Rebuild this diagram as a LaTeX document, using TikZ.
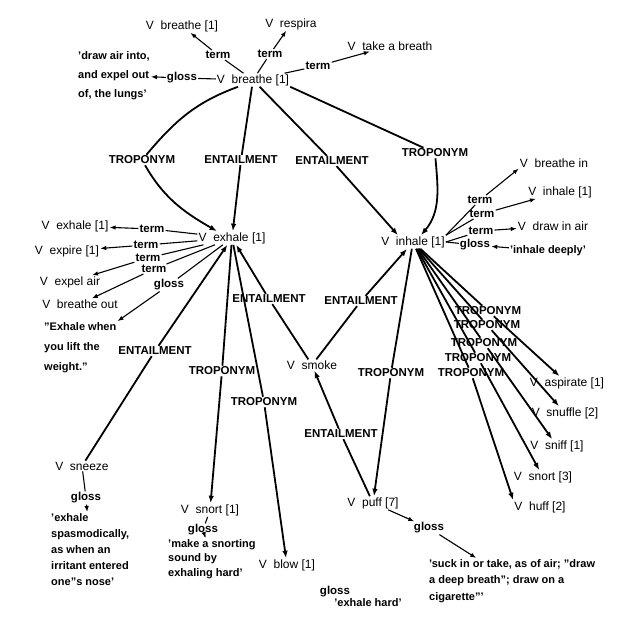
\documentclass[tikz,border=0pt]{standalone}
\usepackage{fontspec}
\setmainfont{Liberation Sans}
\usetikzlibrary{arrows.meta}
\begin{document}
\begin{tikzpicture}[x=1pt,y=-1pt,>={Latex[length=7.5pt,width=5.5pt]},
    syn/.style={inner sep=1pt,font=\fontsize{12}{14}\selectfont},
    rel/.style={inner sep=1pt,font=\bfseries\fontsize{11.5}{13}\selectfont},
    gtext/.style={inner sep=1pt,anchor=north west,align=left,font=\bfseries\fontsize{11}{16}\selectfont},
    relline/.style={line width=1.8pt},
    termline/.style={line width=1.1pt,>={Latex[length=6pt,width=4.5pt]}}]
  \useasboundingbox (0,0) rectangle (637,635);
  % V breathe [1] and its terms
  \draw
    (182,26) node[syn] (brTop){V~ breathe [1]}
    (291,24) node[syn] (respira){V~ respira}
    (390,46) node[syn] (take){V~ take a breath}
    (218,55) node[rel] (tmA){term}
    (270,54) node[rel] (tmB){term}
    (318,66) node[rel] (tmC){term}
    (182,78) node[rel] (glBr){gloss}
    (77,50) node[gtext,font=\bfseries\fontsize{11}{19}\selectfont] (brGl){'draw air into,\\and expel out\\of, the lungs'}
    (253,80) node[syn] (br){V~ breathe [1]}
    (142,160) node[rel] (tropL){TROPONYM}
    (241,160) node[rel] (entL){ENTAILMENT}
    (332,161) node[rel] (entR){ENTAILMENT}
    (435,153) node[rel] (tropR){TROPONYM}
    (232,238) node[syn] (ex){V~ exhale [1]}
    (413,242) node[syn] (inh){V~ inhale [1]};
  % exhale side
  \draw
    (75,226) node[syn] (exSyn){V~ exhale [1]}
    (67,251) node[syn] (expire){V~ expire [1]}
    (70,282) node[syn] (expel){V~ expel air}
    (80,304) node[syn] (brOut){V~ breathe out}
    (152,229) node[rel] (tmE1){term}
    (146,245) node[rel] (tmE2){term}
    (148,258) node[rel] (tmE3){term}
    (154,269) node[rel] (tmE4){term}
    (169,285) node[rel] (glEx){gloss}
    (43,321) node[gtext,font=\bfseries\fontsize{11}{20}\selectfont] (exGl){"Exhale when\\you lift the\\weight."};
  % inhale side
  \draw
    (554,163) node[syn] (brIn){V~ breathe in}
    (560,192) node[syn] (inhSyn){V~ inhale [1]}
    (553,226) node[syn] (drawIn){V~ draw in air}
    (548,251) node[gtext,anchor=center] (inhGl){'inhale deeply'}
    (480,200) node[rel] (tmI1){term}
    (482,214) node[rel] (tmI2){term}
    (481,231) node[rel] (tmI3){term}
    (475,245) node[rel] (glIn){gloss}
    (488,311) node[rel] (tr1){TROPONYM}
    (487,325) node[rel] (tr2){TROPONYM}
    (484,343) node[rel] (tr3){TROPONYM}
    (478,358) node[rel] (tr4){TROPONYM}
    (471,373) node[rel] (tr5){TROPONYM}
    (567,383) node[syn] (aspirate){V~ aspirate [1]}
    (565,413) node[syn] (snuffle){V~ snuffle [2]}
    (557,446) node[syn] (sniff){V~ sniff [1]}
    (543,477) node[syn] (snortC){V~ snort [3]}
    (540,507) node[syn] (huff){V~ huff [2]};
  % lower part
  \draw
    (155,351) node[rel] (entS){ENTAILMENT}
    (82,466) node[syn] (sneeze){V~ sneeze}
    (86,498) node[rel] (glSn){gloss}
    (50,512) node[gtext] (snGl){'exhale\\spasmodically,\\as when an\\irritant entered\\one''s nose'}
    (222,371) node[rel] (tropS){TROPONYM}
    (210,510) node[syn] (snortA){V~ snort [1]}
    (203,530) node[rel] (glSo){gloss}
    (167,538) node[gtext,font=\bfseries\fontsize{11}{14.5}\selectfont] (soGl){'make a snorting\\sound by\\exhaling hard'}
    (264,402) node[rel] (tropB){TROPONYM}
    (287,565) node[syn] (blow){V~ blow [1]}
    (335,592) node[rel] (glBl){gloss}
    (368,603) node[gtext,anchor=center] (blGl){'exhale hard'}
    (269,299) node[rel] (entSE){ENTAILMENT}
    (361,301) node[rel] (entSI){ENTAILMENT}
    (312,365) node[syn] (smoke){V~ smoke}
    (391,373) node[rel] (tropP){TROPONYM}
    (341,434) node[rel] (entP){ENTAILMENT}
    (373,503) node[syn] (puff){V~ puff [7]}
    (429,528) node[rel] (glPf){gloss}
    (428,558) node[gtext,font=\bfseries\fontsize{11}{16.5}\selectfont] (pfGl){'suck in or take, as of air; "draw\\a deep breath"; draw on a\\cigarette"'};
  \begin{scope}[termline]
    \draw (br) to (tmA);  \draw[->] (tmA) to (brTop);
    \draw (br) to (tmB);  \draw[->] (tmB) to (respira);
    \draw (br) to (tmC);  \draw[->] (tmC) to (take);
    \draw (br) to (glBr); \draw[->] (glBr) to (brGl);
    \draw (ex) to (tmE1); \draw[->] (tmE1) to (exSyn);
    \draw (ex) to (tmE2); \draw[->] (tmE2) to (expire);
    \draw (ex) to (tmE3); \draw[->] (tmE3) to (expel);
    \draw (ex) to (tmE4); \draw[->] (tmE4) to (brOut);
    \draw (ex) to (glEx); \draw[->] (glEx) to (exGl);
    \draw (inh.north east) to (tmI1); \draw[->] (tmI1) to (brIn.south west);
    \draw (inh.north east) to (tmI2); \draw[->] (tmI2) to (inhSyn);
    \draw (inh.east) to (tmI3); \draw[->] (tmI3) to (drawIn);
    \draw (inh.east) to (glIn); \draw[<-] (glIn) to (inhGl);
    \draw (sneeze) to (glSn); \draw[->] (glSn) to (snGl);
    \draw (snortA) to (glSo); \draw[->] (glSo) to (soGl);
    \draw[->] (puff) to (glPf); \draw[->] (glPf) to (pfGl);
  \end{scope}
  \begin{scope}[relline]
    \draw ([xshift=-15pt]br.south) to[out=200,in=50] (tropL);
    \draw[->] (tropL) to[out=-60,in=150] ([xshift=-15pt]ex.north);
    \draw (br) to (entL);  \draw[->] (entL) to (ex);
    \draw (br) to (entR);  \draw[->] (entR) to ([xshift=-15pt]inh.north);
    \draw (br.south east) to (tropR);
    \draw[->] (tropR) to[out=-85,in=50] ([xshift=8pt]inh.north);
    \draw (sneeze) to (entS); \draw[->] (entS) to (ex);
    \draw (ex) to (tropS);    \draw[->] (tropS) to (snortA);
    \draw (ex) to (tropB);    \draw[->] (tropB) to (blow);
    \draw (smoke) to (entSE); \draw[->] (entSE) to (ex);
    \draw (smoke) to (entSI); \draw[->] (entSI) to (inh);
    \draw (inh) to (tropP);   \draw[->] (tropP) to (puff);
    \draw (puff) to (entP);   \draw[->] (entP) to (smoke);
    \draw (inh) to (tr1); \draw[->] (tr1) to (aspirate);
    \draw (inh) to (tr2); \draw[->] (tr2) to (snuffle);
    \draw (inh) to (tr3); \draw[->] (tr3) to (sniff);
    \draw (inh) to (tr4); \draw[->] (tr4) to (snortC);
    \draw (inh) to (tr5); \draw[->] (tr5) to (huff.north west);
  \end{scope}
\end{tikzpicture}
\end{document}
